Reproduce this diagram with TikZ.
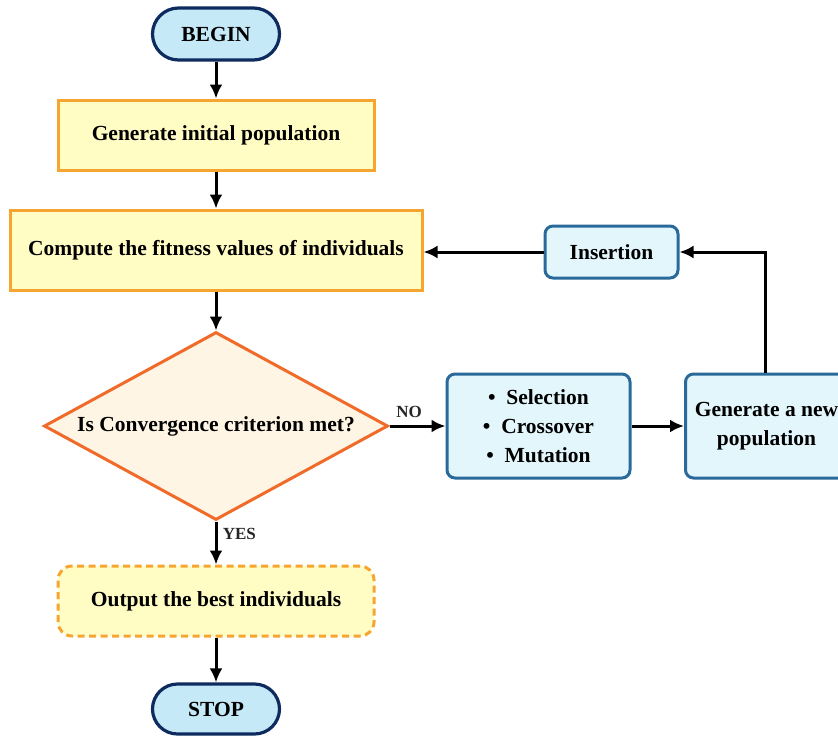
\documentclass[tikz,border=0pt]{standalone}
\usepackage{fontspec}
\setmainfont{Liberation Serif}
\usetikzlibrary{arrows.meta,shapes.geometric}
\definecolor{termfill}{HTML}{C6E9F8}
\definecolor{termdraw}{HTML}{0D2B5E}
\definecolor{yelfill}{HTML}{FFFCC4}
\definecolor{yeldraw}{HTML}{F7A531}
\definecolor{diafill}{HTML}{FEF5E4}
\definecolor{diadraw}{HTML}{F06A2A}
\definecolor{bluefill}{HTML}{E3F6FC}
\definecolor{bluedraw}{HTML}{2A6A9A}
\tikzset{
  txt/.style={font=\fontsize{21.5}{29}\selectfont\bfseries, text=black},
  term/.style={txt, draw=termdraw, fill=termfill, line width=3.2pt, rounded corners=26pt, minimum width=127pt, minimum height=52pt, inner sep=0pt},
  procbox/.style={txt, draw=yeldraw, fill=yelfill, line width=3pt, inner sep=0pt},
  outbox/.style={procbox, dashed, dash pattern=on 7pt off 4.5pt, rounded corners=14pt},
  decbox/.style={txt, diamond, aspect=1.83, draw=diadraw, fill=diafill, line width=3pt, inner sep=0pt},
  opbox/.style={txt, draw=bluedraw, fill=bluefill, line width=3pt, rounded corners=8pt, inner sep=0pt, align=center},
  conn/.style={line width=3pt, -{Latex[length=14pt,width=13pt]}},
  lab/.style={font=\fontsize{17}{20}\selectfont\bfseries, text=black!85}
}
\begin{document}
\begin{tikzpicture}[x=1pt,y=-1pt]
\useasboundingbox (0,0) rectangle (838,737);
\clip (0,0) rectangle (838,737);
\node[term] (begin) at (216,34) {BEGIN};
\node[procbox, minimum width=316pt, minimum height=70pt] (init) at (216,135) {Generate initial population};
\node[procbox, minimum width=412pt, minimum height=80pt] (fit) at (216,250) {Compute the fitness values of individuals};
\node[decbox, minimum width=344pt, minimum height=188pt] (conv) at (216,426) {Is Convergence criterion met?};
\node[opbox, minimum width=183pt, minimum height=104pt] (ops) at (538.5,426) {\textbullet\enspace Selection\\[0pt]\textbullet\enspace Crossover\\[0pt]\textbullet\enspace Mutation};
\node[opbox, minimum width=162pt, minimum height=104pt, anchor=west] (newpop) at (684,426) {Generate a new\\population};
\node[opbox, minimum width=133pt, minimum height=52pt] (ins) at (611.5,252) {Insertion};
\node[outbox, minimum width=316pt, minimum height=70pt] (out) at (216,601) {Output the best individuals};
\node[term, minimum height=50pt, rounded corners=25pt] (stop) at (216,709) {STOP};
\coordinate (up) at (765,252);
\draw[conn] (begin) -- (init);
\draw[conn] (init) -- (fit);
\draw[conn] (fit) -- (conv);
\draw[conn] (conv) -- node[lab, above, pos=0.35, yshift=4pt] {NO} (ops);
\draw[conn] (ops) -- (newpop);
\draw[conn] (newpop.north -| up) -- (up) -- (ins);
\draw[conn] (ins) -- (fit.east |- ins);
\draw[conn] (conv) -- node[lab, right, pos=0.3, xshift=2pt] {YES} (out);
\draw[conn] (out) -- (stop);
\end{tikzpicture}
\end{document}
